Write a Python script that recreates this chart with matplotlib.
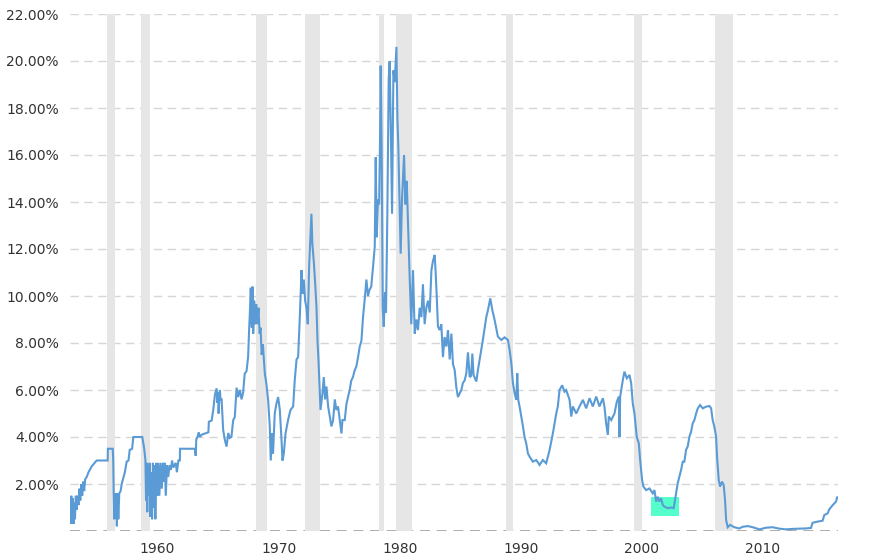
import matplotlib
matplotlib.use("Agg")
import matplotlib.pyplot as plt
from matplotlib.patches import Rectangle

# ---- data (years as positioned on the chart, rate in %) ----
year_a = [1952.77, 1952.82, 1952.88, 1952.94, 1953.0, 1953.06, 1953.12, 1953.18, 1953.25, 1953.32,
          1953.4, 1953.47, 1953.55, 1953.62, 1953.7, 1953.78, 1953.86, 1953.94, 1954.02, 1954.15,
          1954.3, 1954.56, 1954.97, 1955.88, 1955.9, 1956.3, 1956.34, 1956.38, 1956.43, 1956.48,
          1956.53, 1956.58, 1956.64, 1956.7, 1956.76, 1956.84, 1956.95, 1957.04, 1957.3, 1957.45,
          1957.6, 1957.7, 1957.9, 1958.0, 1958.74, 1958.9, 1959.0, 1959.05, 1959.1, 1959.15,
          1959.2, 1959.28, 1959.35, 1959.4, 1959.48, 1959.55, 1959.62, 1959.7, 1959.76, 1959.82,
          1959.9, 1959.97, 1960.05, 1960.15, 1960.25, 1960.35, 1960.45, 1960.52, 1960.6, 1960.68,
          1960.78, 1960.88, 1961.0, 1961.1, 1961.2, 1961.3, 1961.5, 1961.6, 1961.72, 1961.84,
          1961.86, 1963.1, 1963.15, 1963.2, 1963.3, 1963.4, 1963.5, 1963.65, 1964.2, 1964.24,
          1964.47, 1964.6, 1964.74, 1964.88, 1964.95, 1965.0, 1965.04, 1965.1, 1965.15, 1965.2]
rate_a = [1.3, 0.3, 1.5, 0.4, 1.4, 0.3, 1.2, 0.5, 1.5, 0.9,
          1.5, 1.1, 1.8, 1.3, 2.0, 1.5, 2.1, 1.7, 2.2, 2.3,
          2.5, 2.75, 3.0, 3.0, 3.5, 3.5, 3.0, 1.6, 0.5, 1.6,
          0.8, 1.6, 0.2, 1.6, 0.5, 1.6, 1.7, 2.0, 2.5, 2.95,
          3.0, 3.45, 3.5, 4.0, 4.0, 3.5, 3.0, 1.3, 2.9, 0.8,
          2.8, 1.5, 2.9, 0.6, 2.5, 0.5, 2.9, 1.0, 2.8, 0.5,
          2.9, 1.5, 2.9, 1.5, 2.9, 1.8, 2.9, 2.1, 2.9, 1.5,
          2.8, 2.3, 2.8, 2.6, 3.0, 2.7, 2.9, 2.5, 3.0, 3.0,
          3.5, 3.5, 3.2, 3.9, 4.0, 4.2, 4.0, 4.1, 4.2, 4.65,
          4.7, 5.15, 5.8, 6.07, 5.45, 5.9, 5.0, 5.6, 6.0, 5.6]

year_b = [1965.29, 1965.42, 1965.56, 1965.7, 1965.84, 1965.97, 1966.1, 1966.25, 1966.38, 1966.53,
          1966.66, 1966.8, 1966.94, 1967.07, 1967.2, 1967.35, 1967.48, 1967.57, 1967.63, 1967.7,
          1967.75, 1967.79, 1967.84, 1967.9, 1967.98, 1968.06, 1968.15, 1968.23, 1968.34, 1968.43,
          1968.51, 1968.6, 1968.7, 1968.86, 1968.98, 1969.13, 1969.27, 1969.35, 1969.46, 1969.54,
          1969.68, 1969.81, 1969.96, 1970.1, 1970.24, 1970.32, 1970.43, 1970.57, 1970.78, 1970.98,
          1971.2, 1971.33, 1971.48, 1971.61, 1971.75, 1971.89, 1971.97, 1972.08, 1972.19, 1972.3,
          1972.41, 1972.52, 1972.63, 1972.71, 1972.79, 1972.9, 1973.0, 1973.13, 1973.21, 1973.29,
          1973.4, 1973.46, 1973.62, 1973.73, 1973.84, 1973.95, 1974.09, 1974.22, 1974.36, 1974.5,
          1974.64, 1974.77, 1974.91, 1975.05, 1975.19, 1975.27, 1975.46, 1975.6, 1975.73, 1975.87,
          1976.0, 1976.14, 1976.29, 1976.42, 1976.56, 1976.7, 1976.84, 1976.97, 1977.1, 1977.25,
          1977.38, 1977.5, 1977.65, 1977.8, 1977.94]
rate_b = [5.6, 4.3, 3.87, 3.59, 4.17, 3.96, 4.0, 4.72, 4.85, 6.1,
          5.7, 6.0, 5.6, 5.9, 6.7, 6.8, 7.4, 8.65, 9.35, 10.35,
          9.0, 8.65, 10.4, 8.4, 9.8, 8.8, 9.65, 8.8, 9.5, 8.4,
          8.65, 7.5, 7.95, 6.7, 6.3, 5.6, 4.45, 3.0, 4.15, 3.3,
          5.0, 5.4, 5.7, 5.15, 3.87, 3.0, 3.3, 4.15, 4.72, 5.15,
          5.3, 6.4, 7.3, 7.4, 9.1, 11.1, 10.1, 10.7, 9.8, 9.5,
          8.8, 11.25, 12.5, 13.5, 12.2, 11.5, 10.7, 9.5, 8.1, 7.3,
          5.85, 5.15, 5.85, 6.55, 5.6, 6.15, 5.3, 4.9, 4.45, 4.72,
          5.6, 5.15, 5.3, 4.72, 4.15, 4.72, 4.72, 5.4, 5.7, 6.0,
          6.4, 6.55, 6.85, 7.0, 7.4, 7.85, 8.1, 9.1, 9.8, 10.7,
          10.0, 10.25, 10.4, 11.25, 12.1]

year_c = [1978.02, 1978.1, 1978.21, 1978.3, 1978.38, 1978.43, 1978.51, 1978.6, 1978.68, 1978.79,
          1978.87, 1978.98, 1979.09, 1979.17, 1979.26, 1979.37, 1979.48, 1979.59, 1979.73, 1979.81,
          1979.89, 1979.97, 1980.08, 1980.19, 1980.36, 1980.47, 1980.58, 1980.69, 1980.83, 1980.96,
          1981.1, 1981.24, 1981.38, 1981.51, 1981.65, 1981.79, 1981.92, 1982.06, 1982.2, 1982.34,
          1982.48, 1982.62, 1982.75, 1982.89, 1982.97, 1983.05, 1983.16, 1983.3, 1983.44, 1983.57,
          1983.71, 1983.85, 1983.99, 1984.13, 1984.27, 1984.4, 1984.54, 1984.68, 1984.81, 1984.95,
          1985.09, 1985.22, 1985.36, 1985.5, 1985.64, 1985.78, 1985.9, 1986.0, 1986.1, 1986.33,
          1986.46, 1986.6, 1986.87, 1987.15, 1987.29, 1987.48, 1987.65, 1987.84, 1988.11, 1988.39,
          1988.66, 1988.94, 1989.08, 1989.22, 1989.35, 1989.49, 1989.63, 1989.71, 1989.79, 1989.9]
rate_c = [15.9, 12.5, 14.1, 13.9, 16.8, 19.8, 16.3, 9.5, 8.7, 10.15,
          9.3, 13.5, 19.2, 20.0, 17.3, 13.5, 19.6, 19.1, 20.6, 17.6,
          16.3, 14.4, 11.8, 14.1, 16.0, 13.9, 14.9, 13.0, 10.7, 8.8,
          11.1, 8.4, 9.0, 8.55, 9.5, 9.1, 10.5, 8.8, 9.5, 9.8,
          9.3, 11.1, 11.5, 11.75, 11.0, 10.1, 8.7, 8.55, 8.8, 7.4,
          8.25, 7.85, 8.55, 7.3, 8.4, 7.1, 6.85, 6.1, 5.7, 5.85,
          6.0, 6.3, 6.4, 6.7, 7.6, 6.55, 6.6, 7.55, 6.64, 6.36,
          6.85, 7.28, 8.13, 9.1, 9.4, 9.9, 9.4, 8.98, 8.27, 8.13,
          8.24, 8.13, 7.7, 7.14, 6.3, 5.86, 5.58, 6.71, 5.58, 5.3]

year_d = [1990.04, 1990.18, 1990.31, 1990.45, 1990.59, 1990.73, 1991.0, 1991.28, 1991.55, 1991.82,
          1992.1, 1992.24, 1992.38, 1992.65, 1992.93, 1993.06, 1993.2, 1993.42, 1993.61, 1993.75,
          1994.03, 1994.17, 1994.3, 1994.58, 1994.85, 1995.13, 1995.4, 1995.68, 1995.95, 1996.23,
          1996.5, 1996.78, 1996.91, 1997.05, 1997.19, 1997.27, 1997.47, 1997.74, 1997.93, 1998.1,
          1998.15, 1998.21, 1998.43, 1998.56, 1998.76, 1998.98, 1999.12, 1999.25, 1999.39, 1999.58,
          1999.75, 1999.86, 2000.02]
rate_d = [4.87, 4.45, 4.0, 3.73, 3.3, 3.16, 2.95, 3.02, 2.81, 3.02,
          2.88, 3.16, 3.45, 4.15, 5.0, 5.3, 6.0, 6.2, 5.93, 6.0,
          5.58, 4.87, 5.3, 5.0, 5.3, 5.58, 5.22, 5.65, 5.3, 5.72,
          5.3, 5.65, 5.3, 4.58, 4.09, 4.87, 4.72, 5.0, 5.5, 5.72,
          4.0, 5.72, 6.43, 6.78, 6.5, 6.64, 6.28, 5.43, 5.0, 4.0,
          3.73, 3.02, 2.17]

year_e = [2000.13, 2000.35, 2000.63, 2000.9, 2001.04, 2001.18, 2001.31, 2001.45, 2001.59, 2001.73,
          2001.86, 2002.14, 2002.42, 2002.63, 2002.83, 2002.96, 2003.1, 2003.24, 2003.38, 2003.51,
          2003.65, 2003.79, 2003.93, 2004.07, 2004.2, 2004.34, 2004.48, 2004.62, 2004.81, 2005.03,
          2005.3, 2005.58, 2005.72, 2005.85, 2005.99, 2006.13, 2006.21, 2006.35, 2006.46, 2006.62,
          2006.76, 2006.87, 2006.96, 2007.09, 2007.29, 2007.64, 2008.05, 2008.33, 2008.74, 2009.16,
          2009.7, 2010.26, 2010.8, 2011.35, 2011.9, 2012.45, 2013.0, 2013.56, 2013.97, 2014.1,
          2014.52, 2014.93, 2015.07, 2015.34, 2015.48, 2015.76, 2016.04, 2016.12, 2016.22]
rate_e = [1.89, 1.74, 1.81, 1.6, 1.74, 1.25, 1.46, 1.25, 1.39, 1.1,
          1.04, 0.97, 1.0, 0.97, 1.6, 2.03, 2.31, 2.6, 2.95, 2.95,
          3.45, 3.6, 4.02, 4.23, 4.58, 4.72, 5.0, 5.22, 5.36, 5.22,
          5.29, 5.32, 5.22, 4.72, 4.43, 4.02, 3.17, 2.17, 1.89, 2.1,
          1.96, 1.32, 0.47, 0.16, 0.26, 0.16, 0.11, 0.18, 0.21, 0.16,
          0.07, 0.14, 0.16, 0.1, 0.07, 0.09, 0.1, 0.11, 0.13, 0.35,
          0.4, 0.44, 0.68, 0.75, 0.92, 1.1, 1.25, 1.43, 1.43]

# shaded recession periods (chart positions)
rec_start = [1955.83, 1958.63, 1968.12, 1972.16, 1978.27, 1979.67, 1988.75, 1999.39, 2006.07]
rec_end = [1956.49, 1959.37, 1969.03, 1973.40, 1978.68, 1980.99, 1989.32, 2000.05, 2007.56]

# highlighted selection box
hl_years = [2000.79, 2003.10]
hl_rates = [0.64, 1.45]

y_ticks = [2, 4, 6, 8, 10, 12, 14, 16, 18, 20, 22]
x_ticks = [1960, 1970, 1980, 1990, 2000, 2010]

years = year_a + year_b + year_c + year_d + year_e
rates = rate_a + rate_b + rate_c + rate_d + rate_e

# ---- figure ----
fig = plt.figure(figsize=(8.88, 5.6), dpi=100)
ax = fig.add_axes([70 / 888, 1 - 531 / 560, (838 - 70) / 888, (531 - 14) / 560])
ax.set_xlim(1952.77, 2016.2)
ax.set_ylim(0, 22)

for s, e in zip(rec_start, rec_end):
    ax.axvspan(s, e, color="#e6e6e6", lw=0, zorder=1)

for t in y_ticks:
    ax.axhline(t, color="#d6d6d6", lw=1.0, dashes=(6, 4), zorder=0.5)
ax.axhline(0, color="#a0a0a0", lw=1.2, dashes=(6, 4), zorder=0.6)

ax.add_patch(Rectangle((hl_years[0], hl_rates[0]), hl_years[1] - hl_years[0],
                       hl_rates[1] - hl_rates[0], facecolor="#55ffcc", edgecolor="none", zorder=2))

ax.plot(years, rates, color="#5b9bd5", lw=1.5, zorder=3, solid_joinstyle="miter")

ax.set_yticks(y_ticks)
ax.set_yticklabels([f"{t:.2f}%" for t in y_ticks])
ax.set_xticks(x_ticks)
ax.set_xticklabels([str(t) for t in x_ticks])
ax.tick_params(axis="both", length=0, labelsize=10, colors="#333333")
ax.tick_params(axis="y", pad=8)
ax.tick_params(axis="x", pad=8)
for sp in ax.spines.values():
    sp.set_visible(False)

fig.savefig("out.png", dpi=100)
